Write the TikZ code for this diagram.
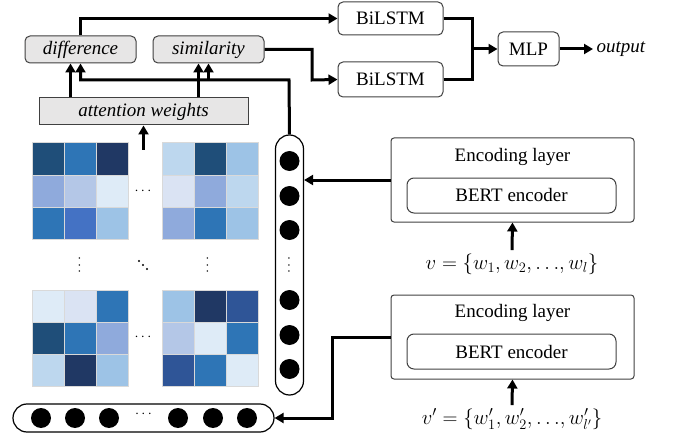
\documentclass[tikz,border=0pt]{standalone}
\usepackage{fontspec}
\setmainfont{Liberation Serif}
\usetikzlibrary{positioning,arrows.meta}

\definecolor{boxgray}{HTML}{E7E6E6}
\definecolor{cellgrid}{HTML}{D9D9D9}
\definecolor{hA}{HTML}{1F4E79}
\definecolor{hB}{HTML}{2E75B6}
\definecolor{hC}{HTML}{203864}
\definecolor{hD}{HTML}{8FAADC}
\definecolor{hE}{HTML}{B4C7E7}
\definecolor{hF}{HTML}{DEEBF7}
\definecolor{hG}{HTML}{4472C4}
\definecolor{hH}{HTML}{9DC3E6}
\definecolor{hI}{HTML}{BDD7EE}
\definecolor{hJ}{HTML}{DAE3F3}
\definecolor{hK}{HTML}{2F5597}

\tikzset{
  conn/.style = {line width=3pt},
  arr/.style = {conn, -{Triangle[length=9pt,width=10pt]}},
  graybox/.style = {draw=black!75, line width=1pt, fill=boxgray, inner sep=0pt,
    font=\fontsize{19}{23}\selectfont\itshape},
  whitebox/.style = {draw=black!75, line width=1pt, rounded corners=5pt, inner sep=0pt},
  capsule/.style = {draw, line width=1.2pt, rounded corners=14pt, inner sep=0pt},
  dot/.style = {circle, fill=black, minimum size=20pt, inner sep=0pt},
  dots/.style = {inner sep=0pt, font=\fontsize{15}{18}\selectfont},
}

\begin{document}
\begin{tikzpicture}[x=1pt, y=-1pt, font=\fontsize{19}{23}\selectfont]
  \useasboundingbox (0,0) rectangle (673,436);

  % top part
  \node[graybox, rounded corners=5pt, minimum width=111pt, minimum height=27pt] (dif) at (80.5,49.5) {difference};
  \node[graybox, rounded corners=5pt, minimum width=111pt, minimum height=27pt] (sim) at (208.5,49.5) {similarity};
  \node[graybox, minimum width=209pt, minimum height=27pt] (att) at (143.5,111.5) {attention weights};

  \node[whitebox, minimum width=105pt, minimum height=33pt] (bl1) at (390.5,18.5) {BiLSTM};
  \node[whitebox, minimum width=105pt, minimum height=35pt] (bl2) at (390.5,79.5) {BiLSTM};
  \node[whitebox, minimum width=61pt, minimum height=34pt] (mlp) at (528.5,49) {MLP};
  \node[font=\fontsize{19}{23}\selectfont\itshape, anchor=west] (out) at (593,49) {output};

  \coordinate (join) at (472,49);
  \coordinate (sbend) at (312,80);
  \coordinate (bus) at (289,80);
  \coordinate (mtop) at (143.5,150);

  \draw[arr] (dif.north) |- (bl1.west);
  \draw[arr] (sim.east) -| (sbend) -- (bl2.west);
  \draw[conn] (bl1.east) -| (join);
  \draw[conn] (bl2.east) -| (join);
  \draw[arr] (join) -- (mlp.west);
  \draw[arr] (mlp.east) -- (out.west);

  \draw[arr] ([xshift=-10pt]dif.south |- att.north) -- ([xshift=-10pt]dif.south);
  \draw[arr] ([xshift=-10pt]sim.south |- att.north) -- ([xshift=-10pt]sim.south);
  \draw[arr] (mtop) -- (att.south);

  % attention matrices
  \foreach \mx/\my/\cells in {
      32/143/{hA,hB,hC,hD,hE,hF,hB,hG,hH},
      162/143/{hI,hA,hH,hJ,hD,hI,hD,hB,hH},
      32/290/{hF,hJ,hB,hA,hB,hD,hI,hC,hH},
      162/290/{hH,hC,hK,hE,hF,hB,hK,hB,hF}} {
    \foreach \c [count=\k from 0] in \cells {
      \pgfmathtruncatemacro\row{\k/3}
      \pgfmathtruncatemacro\col{mod(\k,3)}
      \filldraw[fill=\c, draw=cellgrid, line width=1pt]
        (\mx+32.2*\col, \my+32.2*\row) rectangle ++(32.2,32.2);
    }
  }
  \node[dots] (hdots1) at (143,191) {$\cdots$};
  \node[dots] (hdots2) at (143,337) {$\cdots$};
  \node[dots, rotate=90] (vdots1) at (80,265) {$\cdots$};
  \node[dots, rotate=90] (vdots2) at (208,265) {$\cdots$};
  \foreach \d in {-1,0,1}
    \fill (143+4*\d,265+4*\d) circle (1.1pt);

  % token vectors
  \node[capsule, minimum width=28pt, minimum height=260pt] (vcap) at (289.5,265) {};
  \foreach \y in {161,196,230,300,335,369}
    \node[dot] (v\y) at (289.5,\y) {};
  \node[dots, rotate=90] (vdots3) at (289.5,265) {$\cdots$};

  \node[capsule, minimum width=261pt, minimum height=28pt] (hcap) at (143.5,418) {};
  \foreach \x in {41,75,109,178,213,247}
    \node[dot] (h\x) at (\x,418) {};
  \node[dots] (hdots3) at (143.5,414) {$\cdots$};

  \draw[arr] (vcap.north) -- (bus) -| (dif.south);
  \draw[arr] (sim.south |- bus) -- (sim.south);

  % encoders
  \node[draw=black!75, line width=1pt, rounded corners=3pt, minimum width=243pt, minimum height=84pt] (enc1) at (512.5,180) {};
  \node (enc1t) at (512.5,157) {Encoding layer};
  \node[whitebox, rounded corners=7pt, minimum width=209pt, minimum height=35pt] (bert1) at (511.5,195.5) {BERT encoder};
  \node[font=\fontsize{20}{24}\selectfont] (in1) at (512,264) {$v=\{w_1,w_2,{\ldots},w_l\}$};

  \node[draw=black!75, line width=1pt, rounded corners=3pt, minimum width=243pt, minimum height=84pt] (enc2) at (512.5,337) {};
  \node (enc2t) at (512.5,313) {Encoding layer};
  \node[whitebox, rounded corners=7pt, minimum width=209pt, minimum height=35pt] (bert2) at (511.5,351.5) {BERT encoder};
  \node[font=\fontsize{20}{24}\selectfont] (in2) at (512,419) {$v'=\{w'_1,w'_2,{\ldots},w'_{l'}\}$};

  \coordinate (ebend) at (332,418);
  \draw[arr] (enc1.west) -- (enc1.west -| vcap.east);
  \draw[arr] (enc2.west) -| (ebend) -- (hcap.east);
  \draw[arr] (in1.north) -- (enc1.south);
  \draw[arr] (in2.north) -- (enc2.south);
\end{tikzpicture}
\end{document}
